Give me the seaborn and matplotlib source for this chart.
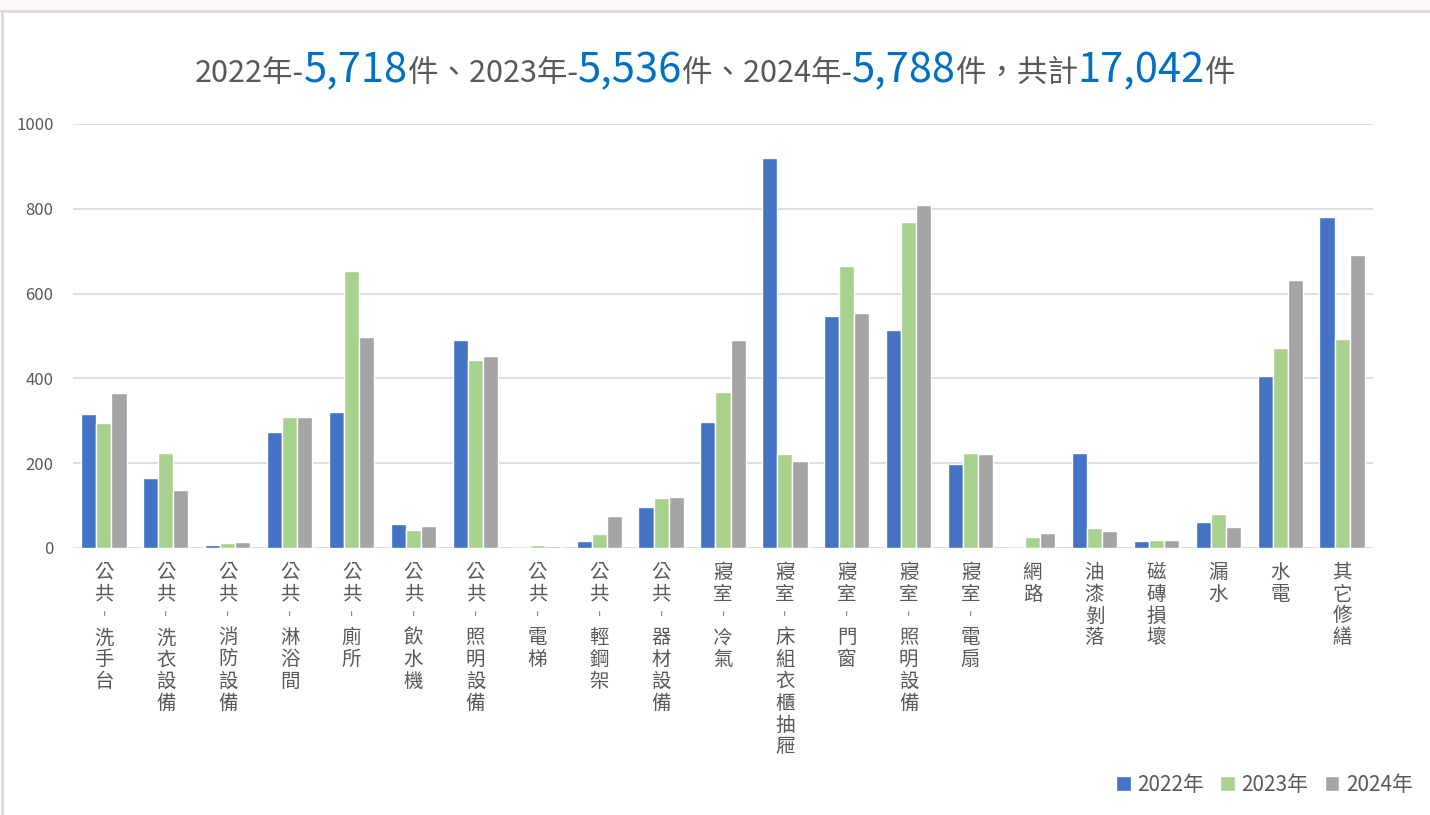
import numpy as np
import pandas as pd
import seaborn as sns
import matplotlib
matplotlib.use("Agg")
import matplotlib.pyplot as plt
from matplotlib.patches import Rectangle
from matplotlib.lines import Line2D

# data
categories = ["公共-洗手台", "公共-洗衣設備", "公共-消防設備", "公共-淋浴間", "公共-廁所",
              "公共-飲水機", "公共-照明設備", "公共-電梯", "公共-輕鋼架", "公共-器材設備",
              "寢室-冷氣", "寢室-床組衣櫃抽屜", "寢室-門窗", "寢室-照明設備", "寢室-電扇",
              "網路", "油漆剝落", "磁磚損壞", "漏水", "水電", "其它修繕"]
years = ["2022年", "2023年", "2024年"]
v2022 = [315, 166, 8, 274, 320, 56, 490, 0, 16, 96, 297, 919, 547, 513, 197, 0, 224, 16, 61, 405, 781]
v2023 = [295, 224, 11, 309, 653, 43, 443, 6, 34, 118, 369, 221, 665, 768, 224, 26, 46, 20, 81, 472, 493]
v2024 = [365, 137, 14, 309, 498, 51, 452, 4, 76, 121, 490, 206, 555, 809, 221, 36, 39, 18, 49, 633, 691]
totals = ["5,718", "5,536", "5,788", "17,042"]
colors = ["#4472C4", "#A9D18E", "#A5A5A5"]

df = pd.DataFrame({
    "cat": categories * 3,
    "year": np.repeat(years, len(categories)),
    "count": v2022 + v2023 + v2024,
})

sns.set_style("white")
plt.rcParams["font.family"] = ["Noto Sans CJK TC", "DejaVu Sans"]

fig = plt.figure(figsize=(14.3, 8.15), dpi=100)
ax = fig.add_axes([73 / 1430, 267 / 815, 1300 / 1430, 424 / 815])

sns.barplot(data=df, x="cat", y="count", hue="year", palette=colors,
            width=0.73, saturation=1, ax=ax, legend=False)

ax.set_ylim(0, 1000)
ax.set_yticks(range(0, 1001, 200))
ax.set_xlim(-0.5, len(categories) - 0.5)
ax.grid(axis="y", color="#d9d9d9", linewidth=1.2)
ax.set_axisbelow(True)
for s in ax.spines.values():
    s.set_visible(False)
ax.set_xlabel("")
ax.set_ylabel("")

# stacked vertical labels
vlabels = ["\n".join(c.replace("-", "︲")) for c in categories]
ax.set_xticks(range(len(categories)))
ax.set_xticklabels(vlabels, fontsize=14, color="#595959", va="top", linespacing=1.05)
ax.tick_params(axis="x", length=0, pad=10)
ax.tick_params(axis="y", length=0, pad=14, labelsize=12, labelcolor="#595959")

# frame decoration
fig.patches.append(Rectangle((0, 805 / 815), 1, 10 / 815, transform=fig.transFigure,
                             facecolor="#fdf7fc", edgecolor="none", zorder=0))
fig.lines.append(Line2D([0, 1], [804 / 815, 804 / 815], transform=fig.transFigure,
                        color="#d9d9d9", linewidth=2))
fig.lines.append(Line2D([1.5 / 1430, 1.5 / 1430], [0, 804 / 815], transform=fig.transFigure,
                        color="#d9d9d9", linewidth=2))

# title with mixed colours
parts = [("2022年-", "gray"), (totals[0], "blue"), ("件、2023年-", "gray"), (totals[1], "blue"),
         ("件、2024年-", "gray"), (totals[2], "blue"), ("件，共計", "gray"), (totals[3], "blue"),
         ("件", "gray")]
ty = 733 / 815
texts = []
fig.canvas.draw()
r = fig.canvas.get_renderer()
x = 0.0
for s, kind in parts:
    if kind == "blue":
        t = fig.text(x, ty, s, fontsize=30, color="#0070C0", va="baseline", ha="left")
    else:
        t = fig.text(x, ty, s, fontsize=22, color="#595959", va="baseline", ha="left")
    w = t.get_window_extent(renderer=r).width / fig.bbox.width
    texts.append((t, x))
    x += w
shift = 0.5 - x / 2
for t, x0 in texts:
    t.set_x(x0 + shift)

handles = [Rectangle((0, 0), 1, 1, facecolor=c) for c in colors]
fig.legend(handles, years, loc="center left", bbox_to_anchor=(1116 / 1430, 30 / 815),
           ncol=3, frameon=False, fontsize=15, handlelength=0.7, handleheight=0.7,
           handletextpad=0.3, columnspacing=0.8, borderpad=0, borderaxespad=0,
           labelcolor="#595959")

fig.savefig("out.png", dpi=100)
